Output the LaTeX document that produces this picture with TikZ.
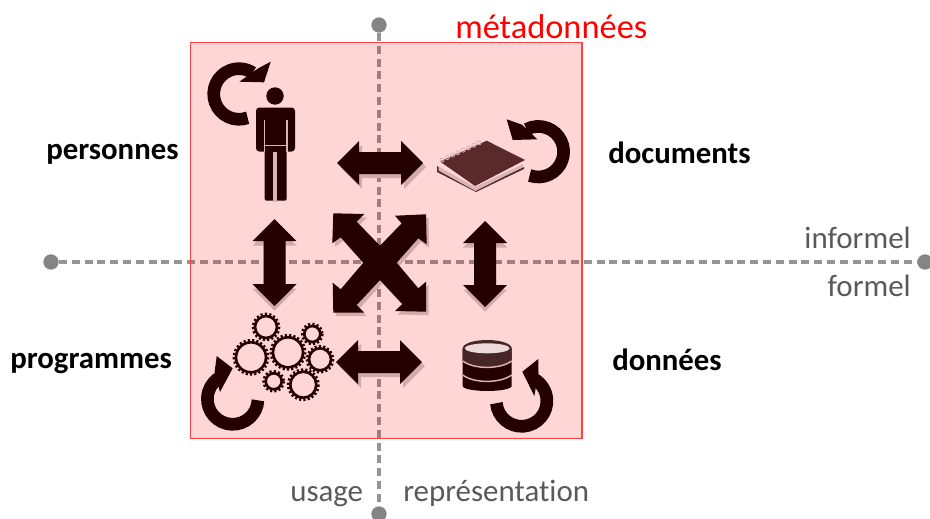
\documentclass[tikz,border=0pt]{standalone}
\usepackage{fontspec}
\setmainfont[Ligatures=NoCommon]{Carlito}
\definecolor{icon}{HTML}{250000}
\definecolor{iconb}{HTML}{5A2A2A}
\definecolor{shade}{HTML}{D2AAAA}
\definecolor{slit}{HTML}{D8B4B4}
\definecolor{axis}{HTML}{858585}
\definecolor{axisl}{HTML}{959595}
\definecolor{greytext}{HTML}{595959}
\tikzset{
  axisline/.style={draw=axisl,line width=2.3pt,dash pattern=on 6pt off 3.6pt},
  axisdot/.style={circle,fill=axis,inner sep=0pt,minimum size=11.5pt},
  square/.style={draw=red!75!white,fill=red,fill opacity=.16,draw opacity=1,line width=.9pt},
  boldlabel/.style={font=\fontsize{23.1}{27}\selectfont\bfseries,text=black,inner sep=0pt},
  greylabel/.style={font=\fontsize{23.2}{27}\selectfont,text=greytext,inner sep=0pt},
  titlelabel/.style={font=\fontsize{25.8}{30}\selectfont,text=red,inner sep=0pt},
  iconfill/.style={fill=icon,draw=none},
  shadefill/.style={fill=shade,draw=none},
  looparc/.style={draw=icon,line width=9.5pt},
  slitline/.style={draw=slit,line width=.8pt},
}
\newcommand{\dblarrowH}[3]{% x1 x2 y
  \fill[shadefill,shift={(3,4)}] (#1,#3) -- (#1+22,#3-22) -- (#1+22,#3-11) -- (#2-22,#3-11) -- (#2-22,#3-22) -- (#2,#3) -- (#2-22,#3+22) -- (#2-22,#3+11) -- (#1+22,#3+11) -- (#1+22,#3+22) -- cycle;
  \fill[iconfill] (#1,#3) -- (#1+22,#3-22) -- (#1+22,#3-11) -- (#2-22,#3-11) -- (#2-22,#3-22) -- (#2,#3) -- (#2-22,#3+22) -- (#2-22,#3+11) -- (#1+22,#3+11) -- (#1+22,#3+22) -- cycle;
}
\newcommand{\dblarrowV}[3]{% y1 y2 x
  \fill[shadefill,shift={(0,4.5)}] (#3,#1) -- (#3+22,#1+22) -- (#3+11,#1+22) -- (#3+11,#2-22) -- (#3+22,#2-22) -- (#3,#2) -- (#3-22,#2-22) -- (#3-11,#2-22) -- (#3-11,#1+22) -- (#3-22,#1+22) -- cycle;
  \fill[iconfill] (#3,#1) -- (#3+22,#1+22) -- (#3+11,#1+22) -- (#3+11,#2-22) -- (#3+22,#2-22) -- (#3,#2) -- (#3-22,#2-22) -- (#3-11,#2-22) -- (#3-11,#1+22) -- (#3-22,#1+22) -- cycle;
}
\newcommand{\gearwheel}[3]{% x y r
  \draw[icon,line width=2pt] (#1,#2) circle ({#3-3});
  \draw[icon,line width=2.1pt,dash pattern=on 1.6pt off 1.6pt] (#1,#2) circle ({#3-1});
}
\begin{document}
\begin{tikzpicture}[x=.75pt,y=-.75pt]
\useasboundingbox (0,0) rectangle (930,518);
% axes
\node[axisdot] (axT) at (379,25) {};
\node[axisdot] (axB) at (379,514) {};
\node[axisdot] (axL) at (51,262) {};
\node[axisdot] (axR) at (925,262) {};
\draw[axisline] (axT) -- (axB);
\draw[axisline] (axL) -- (axR);
% square
\path[square] (190.5,42.5) rectangle (582,438.5);
% labels
\node[titlelabel,anchor=base west] (meta) at (455,38) {métadonnées};
\node[boldlabel,anchor=base west] (pers) at (46,159) {personnes};
\node[boldlabel,anchor=base west] (docs) at (608,163) {documents};
\node[boldlabel,anchor=base west] (prog) at (10,368) {programmes};
\node[boldlabel,anchor=base west] (donn) at (612,370) {données};
\node[greylabel,anchor=base east] (inf) at (911,248) {informel};
\node[greylabel,anchor=base east] (form) at (911,296) {formel};
\node[greylabel,anchor=base west] (usage) at (290,501) {usage};
\node[greylabel,anchor=base west] (repr) at (403,501) {représentation};
% double arrows
\dblarrowH{337}{423}{163}
\dblarrowH{336}{422}{362}
\dblarrowV{219}{306}{274.5}
\dblarrowV{221}{307}{485}
% cross arrow
\foreach \sx/\sy/\st in {2.5/3.5/shadefill,0/0/iconfill}{
\fill[\st,shift={(\sx,\sy)}] (333.3,213.3) -- (364.3,214) -- (356.7,221.7) -- (380,245.7) -- (401.7,223.3) -- (395,215.7) -- (426,214.3) -- (426.7,244.3) -- (418.3,238.3) -- (396.7,262.7) -- (418.3,288.3) -- (426,281.7) -- (426,311.7) -- (395,311) -- (402.3,304) -- (380,280) -- (356.7,305) -- (364.3,312.7) -- (333.3,312.7) -- (332.7,282.7) -- (340.7,289.3) -- (363.3,262.7) -- (340.7,237.3) -- (332.3,243.3) -- cycle;
}
% loop arrows
\draw[looparc] (239,94) ++(70:25.3) arc[start angle=70,end angle=303,radius=25.3];
\fill[iconfill] (270.7,61.7) -- (264,82.3) -- (239.3,81.7) -- (258.3,68.3) -- cycle;
\draw[looparc] (538.3,151.7) ++(110:25.3) arc[start angle=110,end angle=-118,radius=25.3];
\fill[iconfill] (506.7,119.3) -- (512.7,140) -- (537.3,139.3) -- (522,124.7) -- cycle;
\draw[looparc] (232.7,399) ++(3:25.3) arc[start angle=3,end angle=235,radius=25.3];
\fill[iconfill] (216.7,356) -- (232.7,368.3) -- (220,392) -- (214.5,373) -- cycle;
\draw[looparc] (521.6,401) ++(175:25.3) arc[start angle=175,end angle=-60,radius=25.3];
\fill[iconfill] (538.3,359) -- (522.3,371.7) -- (534.3,396) -- (538.5,373) -- cycle;
% person
\fill[iconfill] (275,96) circle (8.7);
\fill[iconfill,rounded corners=2.5pt] (256,107.5) rectangle (295,151.5);
\fill[iconfill,rounded corners=1.5pt] (264.7,147) rectangle (286.7,200.7);
\fill[slit] (273.3,152) rectangle (277.3,201.5);
\draw[slitline] (264.3,120) -- (264.3,145.5) -- (287,145.5) -- (287,120);
\draw[slitline] (264.3,145.5) -- (264.3,152);
\draw[slitline] (287,145.5) -- (287,152);
% notebook
\fill[iconb] (437,166) -- (475,190) -- (524,167) -- (524,169) -- (476,192) -- (437,172) -- cycle;
\fill[slit] (438.5,166.5) -- (475,187) -- (523,164) -- (523,167) -- (475.5,191) -- (438.5,170.5) -- cycle;
\fill[iconb] (440,161.5) -- (486.7,140.7) -- (525,160) -- (475,186) -- cycle;
\foreach \i in {0,...,7}{
  \draw[slit,line width=.6pt] ({442+\i*5.3},{160-\i*2.45}) circle (2);
}
% database
\fill[icon] (462.7,348.3) -- (462.7,386) arc[start angle=180,end angle=0,x radius=24.5,y radius=5] -- (511.7,348.3) -- cycle;
\fill[icon!85!white] (462.7,348.3) arc[start angle=180,end angle=360,x radius=24.5,y radius=8.3] -- (511.7,361) .. controls (500,369) and (474,369) .. (462.7,361) -- cycle;
\fill[slit!50!white] (487.2,348.3) ellipse (22.5 and 5);
\draw[slit,line width=1.1pt] (462.7,361) .. controls (474,369.5) and (500,369.5) .. (511.7,361);
\draw[slit,line width=1.1pt] (462.7,375) .. controls (474,383.5) and (500,383.5) .. (511.7,375);
% gears
\gearwheel{266}{327}{14}
\gearwheel{312.3}{334}{11}
\gearwheel{251}{357.3}{18}
\gearwheel{288}{352.3}{18}
\gearwheel{320}{359.3}{14}
\gearwheel{273.7}{381.3}{11}
\gearwheel{303.3}{384.7}{16}
\end{tikzpicture}
\end{document}
